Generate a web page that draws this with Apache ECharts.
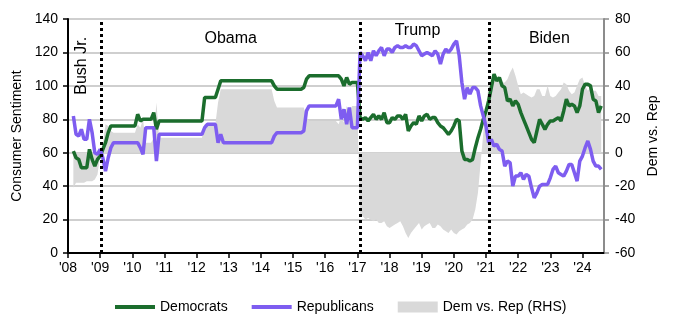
<!DOCTYPE html>
<html>
<head>
<meta charset="utf-8">
<title>Consumer Sentiment by party</title>
<script src="https://cdn.jsdelivr.net/npm/echarts@6/dist/echarts.min.js"></script>
<style>
  html, body { margin: 0; padding: 0; background: #fff; }
  #main { width: 680px; height: 327px; }
</style>
</head>
<body>
<div id="main"></div>
<script>
// monthly readings, Mar 2008 .. Aug 2024 (one row per year)
var firstMonth = [2008, 3];

var democrats = [
  61, 57, 56, 51, 51, 51, 62, 56, 52, 56,
  58, 62, 66, 72, 76, 76, 76, 76, 76, 76, 76, 76,
  76, 76, 83, 79, 80, 80, 80, 80, 84, 74, 79, 79,
  79, 79, 79, 79, 79, 79, 79, 79, 79, 79, 79, 79,
  79, 79, 79, 93, 93, 93, 93, 93, 98, 103, 103, 103,
  103, 103, 103, 103, 103, 103, 103, 103, 103, 103, 103, 103,
  103, 103, 103, 103, 103, 100, 98, 98, 98, 98, 98, 98,
  98, 98, 98, 98, 99, 104, 106, 106, 106, 106, 106, 106,
  106, 106, 106, 106, 106, 106, 104, 100, 105, 101, 102, 102,
  102, 81, 80, 81, 79, 81, 83, 80, 82, 80, 84, 78,
  78, 81, 80, 82, 82, 80, 83, 73, 76, 78, 77, 82,
  79, 82, 83, 80, 81, 81, 78, 76, 75, 73, 71, 73,
  76, 80, 79, 61, 56, 56, 55, 56, 63, 69, 74, 80,
  85, 91, 99, 107, 103, 105, 100, 99, 91, 92, 88, 91,
  89, 84, 80, 76, 72, 68, 66, 73, 80, 77, 74, 77,
  79, 79, 80, 81, 79, 85, 92, 88, 89, 88, 84, 88,
  98, 101, 101, 100, 92, 91, 84, 88
];

var republicans = [
  82, 71, 70, 74, 68, 68, 80, 72, 60, 59,
  62, 57, 49, 57, 63, 66, 66, 66, 66, 66, 66, 66,
  66, 66, 66, 63, 59, 75, 75, 75, 75, 55, 71, 71,
  71, 71, 71, 71, 71, 71, 71, 71, 71, 71, 71, 71,
  71, 71, 71, 75, 77, 77, 77, 77, 66, 71, 66, 66,
  66, 66, 66, 66, 66, 66, 66, 66, 66, 66, 66, 66,
  66, 66, 66, 66, 66, 70, 72, 72, 72, 72, 72, 72,
  72, 72, 72, 72, 73, 85, 88, 88, 88, 88, 88, 88,
  88, 88, 88, 88, 88, 92, 80, 86, 77, 87, 75, 75,
  75, 120, 118, 115, 120, 115, 121, 118, 121, 123, 118, 122,
  122, 120, 123, 124, 123, 123, 124, 123, 123, 125, 124, 121,
  118, 119, 120, 119, 118, 121, 119, 113, 119, 122, 120, 122,
  125, 127, 118, 102, 92, 99, 95, 99, 99, 97, 88, 82,
  76, 66, 68, 64, 65, 62, 61, 52, 55, 54, 40, 46,
  46, 48, 44, 47, 46, 39, 33, 36, 40, 41, 41, 41,
  45, 50, 52, 48, 47, 46, 49, 53, 53, 48, 43, 55,
  58, 63, 67, 62, 55, 52, 52, 50
];

// Dem vs. Rep gap, right-hand scale
var spread = [
  -21, -18, -18, -18, -18, -17, -17, -17, -16, -13,
  -2, 5, 17, 16, 13, 12, 12, 12, 12, 12, 12, 12,
  12, 12, 17, 15, 20, 6, 6, 6, 9, 30, 9, 9,
  9, 9, 9, 9, 9, 9, 9, 9, 9, 9, 9, 9,
  9, 9, 9, 17, 17, 17, 17, 17, 30, 38, 38, 38,
  38, 38, 38, 38, 38, 38, 38, 38, 38, 38, 38, 38,
  38, 38, 38, 38, 38, 31, 27, 27, 27, 27, 27, 27,
  27, 27, 27, 27, 27, 21, 19, 19, 19, 19, 19, 19,
  19, 19, 19, 19, 19, 17, 22, 18, 28, 24, 28, 28,
  28, -38, -38, -40, -39, -40, -41, -40, -42, -42, -41, -44,
  -45, -44, -43, -42, -41, -44, -48, -51, -48, -46, -44, -42,
  -46, -44, -43, -42, -45, -45, -43, -44, -46, -47, -48, -46,
  -48, -49, -47, -46, -45, -43, -42, -40, -34, -24, -6, 12,
  28, 40, 44, 48, 44, 43, 42, 42, 44, 48, 51, 46,
  40, 35, 36, 35, 34, 33, 34, 38, 38, 34, 34, 40,
  34, 33, 34, 36, 38, 42, 41, 37, 35, 36, 40, 44,
  45, 40, 37, 39, 37, 37, 34, 34
];

var yearTicks = [2008, 2009, 2010, 2011, 2012, 2013, 2014, 2015, 2016,
                 2017, 2018, 2019, 2020, 2021, 2022, 2023, 2024];
var inaugurations = [2009.04, 2017.1, 2021.1];
var eras = ['Bush Jr.', 'Obama', 'Trump', 'Biden'];

// month -> decimal year
var months = [];
for (var i = 0; i < democrats.length; i++) {
  var m = firstMonth[1] - 1 + i;
  months.push(firstMonth[0] + Math.floor(m / 12) + (m % 12) / 12);
}
function pairs(arr) {
  return months.map(function (t, i) { return [t, arr[i]]; });
}

var font = "'Liberation Sans', Arial, sans-serif";
var green = '#1b6d2d';
var purple = '#7e5df0';
var grey = '#d9d9d9';
var barIcon = 'path://M0,0M0,11M0,3.5H40V7.5H0Z';

var myChart = echarts.init(document.getElementById('main'));
myChart.setOption({
  animation: false,
  textStyle: { fontFamily: font, color: '#000' },
  grid: { left: 68, right: 76, top: 19, bottom: 74 },
  legend: {
    left: 110,
    top: 295,
    itemWidth: 40,
    itemHeight: 11,
    itemGap: 24,
    itemStyle: { borderWidth: 0 },
    textStyle: { fontSize: 14, color: '#000', fontFamily: font },
    data: [
      { name: 'Democrats', icon: barIcon },
      { name: 'Republicans', icon: barIcon },
      { name: 'Dem vs. Rep (RHS)', icon: 'rect' }
    ]
  },
  xAxis: {
    type: 'value',
    min: 2008,
    max: 2024.67,
    interval: 1,
    axisLine: { onZero: false, lineStyle: { color: '#000', width: 2 } },
    axisTick: { show: true, length: 5, customValues: yearTicks, lineStyle: { color: '#000', width: 1.5 } },
    axisLabel: {
      customValues: yearTicks,
      fontSize: 14, color: '#000', margin: 8,
      formatter: function (v) {
        return v % 1 === 0 ? "'" + String(v).slice(2) : '';
      }
    },
    splitLine: { show: false }
  },
  yAxis: [
    {
      type: 'value',
      position: 'left',
      min: 0, max: 140, interval: 20,
      name: 'Consumer Sentiment',
      nameLocation: 'middle',
      nameGap: 42,
      nameRotate: 90,
      nameTextStyle: { fontSize: 14, color: '#000' },
      axisLine: { show: true, lineStyle: { color: '#000', width: 2 } },
      axisTick: { show: true, length: 5, lineStyle: { color: '#000', width: 1.5 } },
      axisLabel: { fontSize: 14, color: '#000', margin: 10 },
      splitLine: { show: true, lineStyle: { color: '#bfbfbf', width: 1.5 } }
    },
    {
      type: 'value',
      position: 'right',
      min: -60, max: 80, interval: 20,
      name: 'Dem vs. Rep',
      nameLocation: 'middle',
      nameGap: 42,
      nameRotate: 90,
      nameTextStyle: { fontSize: 14, color: '#000' },
      axisLine: { show: true, lineStyle: { color: '#8c8c8c', width: 2 } },
      axisTick: { show: true, length: 5, lineStyle: { color: '#8c8c8c', width: 1.5 } },
      axisLabel: { fontSize: 14, color: '#000', margin: 11 },
      splitLine: { show: false }
    }
  ],
  series: [
    {
      name: 'Dem vs. Rep (RHS)',
      type: 'line',
      yAxisIndex: 1,
      data: pairs(spread),
      symbol: 'none',
      color: grey,
      itemStyle: { color: grey },
      lineStyle: { width: 0, opacity: 0 },
      areaStyle: { color: grey, opacity: 1 },
      silent: true
    },
    {
      name: 'Democrats',
      type: 'line',
      data: pairs(democrats),
      symbol: 'none',
      color: green,
      itemStyle: { color: green },
      lineStyle: { color: green, width: 3.5 },
      markPoint: {
        symbol: 'circle',
        symbolSize: 1,
        itemStyle: { color: 'rgba(0,0,0,0)' },
        silent: true,
        label: { show: true, position: 'inside', color: '#000', fontSize: 16, fontFamily: font },
        data: [
          { coord: [2008.43, 112], value: eras[0], label: { rotate: 90, formatter: eras[0] } },
          { coord: [2013.06, 128], value: eras[1], label: { formatter: eras[1] } },
          { coord: [2018.87, 133], value: eras[2], label: { formatter: eras[2] } },
          { coord: [2022.97, 128], value: eras[3], label: { formatter: eras[3] } }
        ]
      }
    },
    {
      name: 'Republicans',
      type: 'line',
      data: pairs(republicans),
      symbol: 'none',
      color: purple,
      itemStyle: { color: purple },
      lineStyle: { color: purple, width: 3.5 },
      markLine: {
        silent: true,
        symbol: ['none', 'none'],
        label: { show: false },
        lineStyle: { color: '#000', width: 3, type: [3, 3], cap: 'butt' },
        data: inaugurations.map(function (x) { return { xAxis: x }; })
      }
    }
  ]
});
</script>
</body>
</html>
